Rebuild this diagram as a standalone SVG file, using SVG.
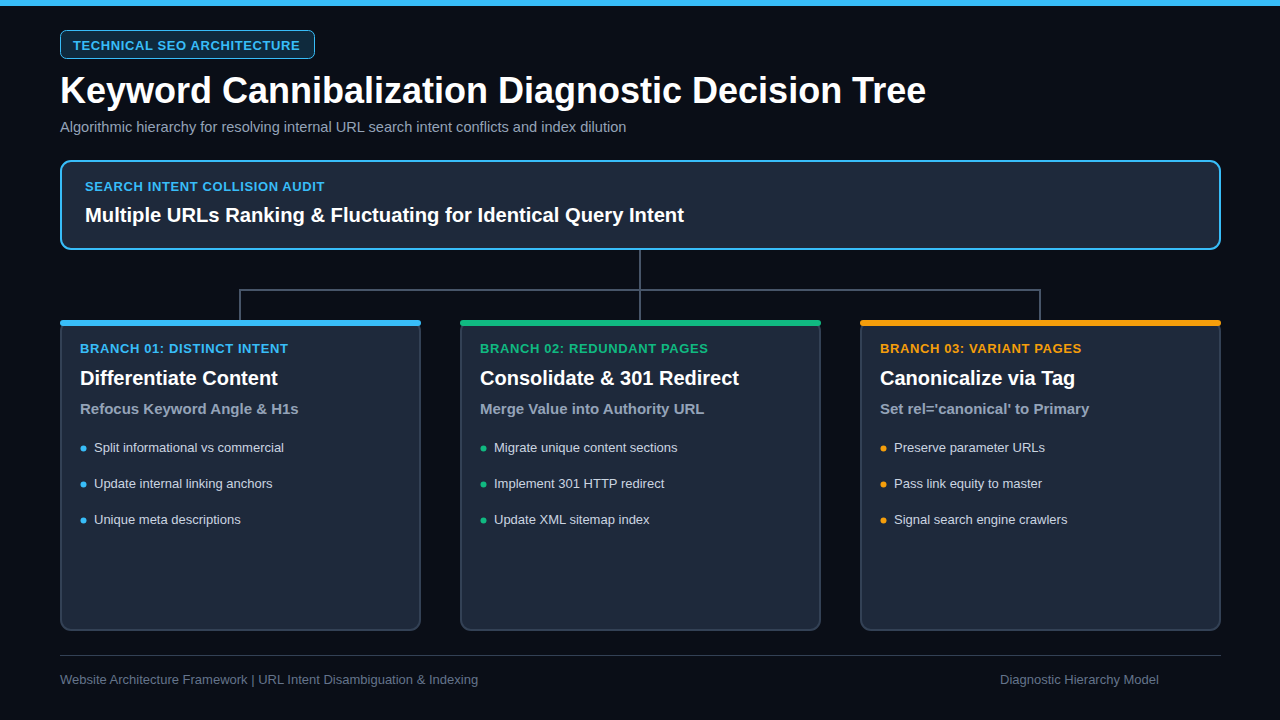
<svg xmlns="http://www.w3.org/2000/svg" width="1280" height="720" viewBox="0 0 1280 720">
<style>
text{font-family:"Liberation Sans",Arial,sans-serif}
.card{fill:#1e293b;stroke:#334155;stroke-width:2}
.conn{fill:none;stroke:#475569;stroke-width:2}
.lab{font-size:13px;font-weight:bold;letter-spacing:0.6px}
.ttl{font-size:20px;font-weight:bold;fill:#ffffff}
.sub{font-size:15px;font-weight:bold;fill:#94a3b8}
.it{font-size:13px;fill:#cbd5e1}
.foot{font-size:13px;fill:#64748b}
</style>
<rect x="0" y="0" width="1280" height="720" fill="#0a0e17"/>
<rect x="0" y="0" width="1280" height="6" fill="#38bdf8"/>
<g id="header">
<rect x="60.5" y="30.5" width="254" height="28" rx="6" fill="#0f2a3d" stroke="#38bdf8" stroke-width="1"/>
<text x="73" y="50" class="lab" fill="#38bdf8">TECHNICAL SEO ARCHITECTURE</text>
<text x="60" y="103" font-size="36" font-weight="bold" fill="#ffffff">Keyword Cannibalization Diagnostic Decision Tree</text>
<text x="60" y="132" font-size="14.6" fill="#94a3b8">Algorithmic hierarchy for resolving internal URL search intent conflicts and index dilution</text>
</g>
<g id="connectors">
<path class="conn" d="M640 250V320M240 320V290H1040V320"/>
</g>
<g id="root">
<rect x="61" y="161" width="1159" height="88" rx="10" fill="#1e293b" stroke="#38bdf8" stroke-width="2"/>
<text x="85" y="191" class="lab" fill="#38bdf8">SEARCH INTENT COLLISION AUDIT</text>
<text x="85" y="222" font-size="20.2" font-weight="bold" fill="#ffffff">Multiple URLs Ranking &amp; Fluctuating for Identical Query Intent</text>
</g>
<g id="branch1">
<rect class="card" x="61" y="321" width="359" height="309" rx="10"/>
<rect x="60" y="320" width="361" height="6" rx="3" fill="#38bdf8"/>
<text x="80" y="353" class="lab" fill="#38bdf8">BRANCH 01: DISTINCT INTENT</text>
<text x="80" y="385" class="ttl">Differentiate Content</text>
<text x="80" y="414" class="sub">Refocus Keyword Angle &amp; H1s</text>
<circle cx="83.5" cy="448.5" r="3" fill="#38bdf8"/><text x="94" y="452" class="it">Split informational vs commercial</text>
<circle cx="83.5" cy="484.5" r="3" fill="#38bdf8"/><text x="94" y="488" class="it">Update internal linking anchors</text>
<circle cx="83.5" cy="520.5" r="3" fill="#38bdf8"/><text x="94" y="524" class="it">Unique meta descriptions</text>
</g>
<g id="branch2">
<rect class="card" x="461" y="321" width="359" height="309" rx="10"/>
<rect x="460" y="320" width="361" height="6" rx="3" fill="#10b981"/>
<text x="480" y="353" class="lab" fill="#10b981">BRANCH 02: REDUNDANT PAGES</text>
<text x="480" y="385" class="ttl">Consolidate &amp; 301 Redirect</text>
<text x="480" y="414" class="sub">Merge Value into Authority URL</text>
<circle cx="483.5" cy="448.5" r="3" fill="#10b981"/><text x="494" y="452" class="it">Migrate unique content sections</text>
<circle cx="483.5" cy="484.5" r="3" fill="#10b981"/><text x="494" y="488" class="it">Implement 301 HTTP redirect</text>
<circle cx="483.5" cy="520.5" r="3" fill="#10b981"/><text x="494" y="524" class="it">Update XML sitemap index</text>
</g>
<g id="branch3">
<rect class="card" x="861" y="321" width="359" height="309" rx="10"/>
<rect x="860" y="320" width="361" height="6" rx="3" fill="#f59e0b"/>
<text x="880" y="353" class="lab" fill="#f59e0b">BRANCH 03: VARIANT PAGES</text>
<text x="880" y="385" class="ttl">Canonicalize via Tag</text>
<text x="880" y="414" class="sub">Set rel='canonical' to Primary</text>
<circle cx="883.5" cy="448.5" r="3" fill="#f59e0b"/><text x="894" y="452" class="it">Preserve parameter URLs</text>
<circle cx="883.5" cy="484.5" r="3" fill="#f59e0b"/><text x="894" y="488" class="it">Pass link equity to master</text>
<circle cx="883.5" cy="520.5" r="3" fill="#f59e0b"/><text x="894" y="524" class="it">Signal search engine crawlers</text>
</g>
<g id="footer">
<rect x="60" y="655" width="1161" height="1" fill="#334155"/>
<text x="60" y="684" class="foot">Website Architecture Framework | URL Intent Disambiguation &amp; Indexing</text>
<text x="1000" y="684" class="foot">Diagnostic Hierarchy Model</text>
</g>
</svg>
